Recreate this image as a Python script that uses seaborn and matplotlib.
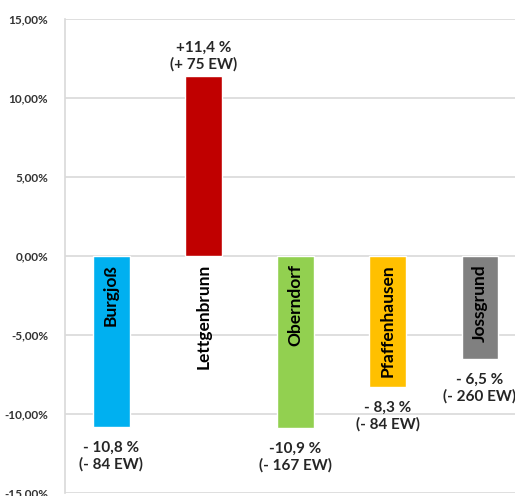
import matplotlib
matplotlib.use("Agg")
import matplotlib.pyplot as plt
from matplotlib.ticker import FuncFormatter, MultipleLocator
import seaborn as sns

# Bevoelkerungsentwicklung der Ortsteile
orte = ["Burgjoß", "Lettgenbrunn", "Oberndorf", "Pfaffenhausen", "Jossgrund"]
aenderung = [-10.8, 11.4, -10.9, -8.3, -6.5]
prozent_text = ["- 10,8 %", "+11,4 %", "-10,9 %", "- 8,3 %", "- 6,5 %"]
ew_text = ["(- 84 EW)", "(+ 75 EW)", "(- 167 EW)", "(- 84 EW)", "(- 260 EW)"]
farben = ["#00B0F0", "#C00000", "#92D050", "#FFC000", "#808080"]

sns.set_theme(style="whitegrid")
plt.rcParams["font.family"] = ["Lato", "DejaVu Sans"]

fig = plt.figure(figsize=(5.15, 4.96), dpi=100)
ax = fig.add_axes([65 / 515, 3 / 496, 1 - 65 / 515, 474 / 496])

sns.barplot(x=orte, y=aenderung, hue=orte, palette=farben, width=0.4,
            saturation=1, legend=False, ax=ax)

ax.set_ylim(-15, 15)
ax.set_xlim(-0.5, 4.38)
ax.yaxis.set_major_locator(MultipleLocator(5))
ax.yaxis.set_major_formatter(FuncFormatter(lambda v, p: f"{v:.2f}%".replace(".", ",")))
ax.set_xticks([])
ax.grid(axis="y", color="#D9D9D9", linewidth=1.2)
ax.grid(axis="x", visible=False)
for s in ["top", "right", "bottom"]:
    ax.spines[s].set_visible(False)
ax.spines["left"].set_color("#D9D9D9")
ax.spines["left"].set_linewidth(1.2)
ax.tick_params(axis="y", length=0, pad=12, labelsize=8.5, labelcolor="#333333")
for lbl in ax.get_yticklabels():
    lbl.set_fontweight("bold")

# Ortsnamen senkrecht unter der Nulllinie
for i, name in enumerate(orte):
    ax.text(i, -0.5, name, rotation=90, ha="center", va="top",
            fontsize=12.5, fontweight="bold", color="black")

# Werte an den Balkenenden
for i, v in enumerate(aenderung):
    txt = prozent_text[i] + "\n" + ew_text[i]
    if v >= 0:
        ax.annotate(txt, (i, v), xytext=(0, 3), textcoords="offset points",
                    ha="center", va="bottom", fontsize=11, fontweight="bold",
                    color="#262626", linespacing=1.2)
    else:
        ax.annotate(txt, (i, v), xytext=(0, -10), textcoords="offset points",
                    ha="center", va="top", fontsize=11, fontweight="bold",
                    color="#262626", linespacing=1.2)

ax.set_xlabel("")
ax.set_ylabel("")
fig.savefig("out.png", dpi=100)
